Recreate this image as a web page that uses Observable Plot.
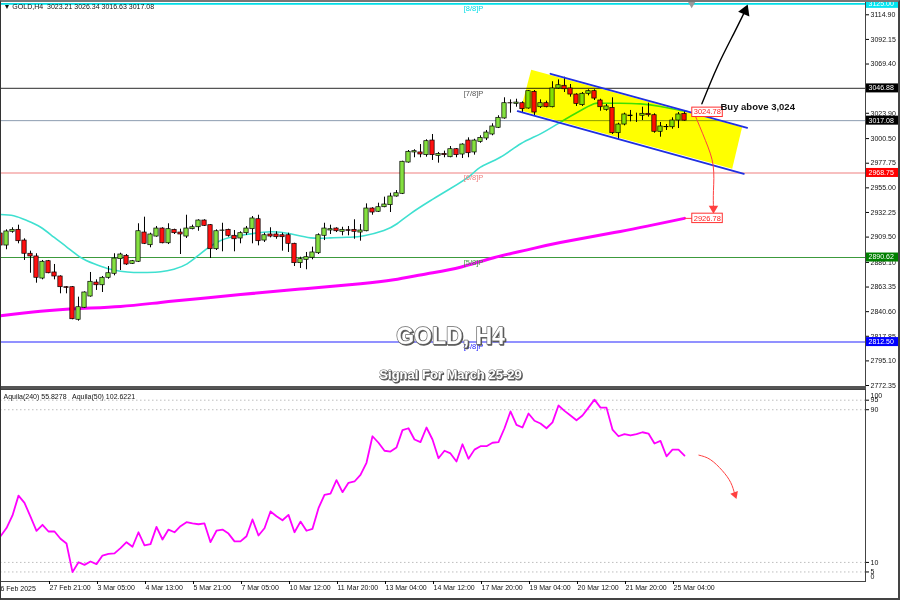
<!DOCTYPE html>
<html><head><meta charset="utf-8">
<script src="https://cdn.jsdelivr.net/npm/d3@7"></script>
<script src="https://cdn.jsdelivr.net/npm/@observablehq/plot@0.6"></script>
<style>
html,body{margin:0;padding:0;background:#fff;}
#wrap{position:relative;width:900px;height:600px;overflow:hidden;background:#fff;}
#main{position:absolute;left:0;top:0;}
#ind{position:absolute;left:0;top:388px;}
#sep{position:absolute;left:0;top:386px;width:866px;height:3px;background:#555;}
#border{position:absolute;left:0;top:0;width:900px;height:600px;box-sizing:border-box;border-top:2px solid #777;border-left:1px solid #333;border-right:2px solid #444;border-bottom:2px solid #444;pointer-events:none;}
.wm text{filter:drop-shadow(1.5px 1.5px 0.6px #555);}
</style></head>
<body><div id="wrap"><div id="main"></div><div id="ind"></div><div id="sep"></div><div id="border"></div></div>
<script>
const FONT = "Liberation Sans, Arial, sans-serif";

// ---- candles (GOLD H4), one per bar index ----
const open = [2912.8,2901.7,2914.4,2916.2,2906.3,2894.1,2891.6,2871.2,2887.2,2876.8,
2873.1,2863.2,2863.2,2833.1,2844.2,2854.6,2867.5,2865.0,2871.9,2875.6,
2889.1,2892.2,2884.8,2886.7,2913.7,2902.0,2910.0,2917.4,2903.8,2916.2,
2913.7,2910.0,2916.8,2918.6,2924.8,2920.5,2898.3,2915.3,2916.2,2910.7,
2908.2,2913.1,2916.8,2926.0,2906.3,2911.9,2911.9,2911.2,2911.2,2903.3,
2885.4,2888.5,2890.4,2894.6,2910.7,2915.6,2917.4,2914.4,2915.9,2916.2,
2913.7,2914.9,2935.9,2932.9,2937.1,2939.0,2947.0,2949.5,2978.4,2987.7,
2987.7,2985.2,2998.7,2984.6,2986.4,2983.3,2990.7,2985.8,2998.7,2987.7,
2997.5,3000.6,3004.3,3010.5,3019.1,3033.2,3032.6,3033.2,3028.3,3043.7,
3029.5,3033.2,3029.5,3046.8,3049.3,3046.8,3041.2,3031.4,3041.9,3044.3,
3035.7,3027.1,3028.9,3005.5,3013.5,3021.2,3021.6,3021.6,3023.4,3022.1,
3006.8,3011.0,3011.0,3017.2,3023.21];
const high = [2915.6,2916.2,2918.1,2920.5,2907.9,2896.5,2894.1,2887.9,2887.9,2884.2,
2873.7,2863.8,2863.8,2854.0,2858.9,2876.8,2870.0,2873.1,2882.3,2894.1,
2894.6,2893.4,2887.9,2921.8,2927.9,2913.1,2919.3,2918.1,2921.8,2916.8,
2916.8,2929.7,2920.5,2925.5,2925.5,2921.1,2916.2,2922.3,2916.8,2915.6,
2914.4,2919.3,2928.5,2929.7,2913.1,2918.1,2914.4,2913.1,2913.1,2903.8,
2890.9,2895.3,2900.2,2912.5,2922.3,2920.5,2918.1,2918.6,2919.3,2925.5,
2921.1,2940.2,2936.6,2940.8,2946.4,2950.0,2952.5,2979.6,2989.5,2990.2,
2995.0,2999.4,3004.3,2987.7,2988.9,2993.2,2991.3,2995.7,3001.2,2999.9,
3003.1,3008.0,3014.2,3021.6,3038.2,3036.3,3036.9,3034.5,3044.9,3044.9,
3036.3,3035.1,3053.0,3054.8,3057.2,3050.5,3041.9,3043.1,3045.6,3045.6,
3036.9,3032.0,3038.2,3014.7,3024.0,3026.5,3024.0,3029.5,3033.2,3023.4,
3015.4,3013.5,3019.7,3024.6,3026.34];
const low = [2898.9,2897.8,2913.1,2903.3,2887.9,2876.1,2866.9,2870.0,2875.6,2870.0,
2857.1,2857.1,2833.1,2831.8,2843.5,2854.0,2860.2,2858.3,2870.6,2873.7,
2878.6,2883.3,2884.2,2886.0,2902.6,2899.6,2909.4,2903.3,2902.6,2911.9,
2893.4,2908.2,2916.2,2914.9,2919.3,2889.7,2897.1,2895.9,2909.4,2895.9,
2903.3,2911.0,2903.3,2901.4,2904.5,2908.8,2907.5,2896.5,2895.3,2882.3,
2880.5,2879.3,2888.5,2893.4,2906.3,2911.9,2913.7,2910.7,2910.7,2907.5,
2905.7,2914.4,2929.7,2932.2,2936.6,2932.2,2946.4,2948.8,2977.8,2982.8,
2982.8,2983.3,2980.3,2977.8,2982.8,2982.8,2982.8,2982.1,2982.8,2985.2,
2996.2,2998.7,3003.1,3009.8,3018.4,3024.0,3029.5,3024.0,3027.7,3021.6,
3028.3,3028.9,3028.9,3046.1,3043.1,3038.8,3030.2,3030.2,3040.0,3035.7,
3025.8,3025.8,3004.3,2999.4,3012.3,3016.0,3015.4,3017.2,3020.3,3005.5,
3001.8,3008.0,3009.2,3009.8,3016.63];
const close = [2901.7,2914.7,2916.2,2905.7,2894.1,2891.6,2871.9,2886.7,2876.1,2873.1,
2863.2,2862.6,2833.6,2844.7,2858.3,2868.2,2865.0,2871.9,2876.1,2889.7,
2893.4,2884.2,2887.2,2914.9,2903.3,2911.9,2917.4,2903.8,2916.8,2913.1,
2911.9,2917.4,2918.6,2924.8,2919.9,2898.3,2914.9,2915.6,2910.7,2907.5,
2913.1,2917.4,2926.7,2905.7,2911.2,2910.0,2909.4,2909.4,2903.3,2885.4,
2889.1,2890.9,2895.3,2911.2,2917.4,2916.8,2914.9,2916.2,2915.3,2914.4,
2915.6,2935.9,2932.2,2937.1,2939.6,2947.0,2950.0,2979.1,2988.3,2988.9,
2985.8,2998.1,2985.2,2986.4,2985.2,2990.7,2985.2,2995.0,2987.0,2998.7,
3001.2,3006.1,3011.7,3019.7,3033.2,3033.0,3033.8,3027.7,3044.3,3024.6,
3033.2,3029.5,3046.8,3049.8,3046.1,3041.2,3032.6,3041.9,3044.3,3037.5,
3029.5,3030.2,3005.5,3013.5,3022.8,3021.8,3021.6,3023.4,3022.1,3006.8,
3011.7,3011.3,3017.2,3022.8,3017.08];

// ---- moving averages (bar index, price) ----
const ma21Idx = [0,2.2,4.4,6.7,8.9,11.1,13.3,15.6,17.8,20,22.2,24.4,26.7,28.9,31.1,33.3,36.7,40,41.7,45,48.3,51.7,55,58.3,60.6,63.9,66.1,68.3,71.7,75,78.3,80,83.3,86.7,90,93.3,96.7,98.9,100,103.3,106.7,110,113.3,114.4];
const ma21Val = [2930.4,2929.2,2924.8,2918.6,2909.4,2900.1,2890.9,2884.8,2880.5,2878.0,2876.8,2876.8,2877.4,2879.8,2884.8,2894.1,2906.3,2911.2,2912.5,2914.4,2912.5,2908.8,2908.8,2909.4,2910.7,2915.6,2921.8,2931.0,2943.3,2954.4,2966.4,2974.1,2983.3,2995.7,3004.9,3015.6,3026.5,3032.6,3033.2,3033.2,3032.6,3030.2,3026.5,3025.8];
const ma200Idx = [0,6.67,13.33,20,26.67,33.33,40,50,60,65.55,71.1,76.67,82.2,87.8,93.3,103.3,114];
const ma200Val = [2836.8,2841.0,2843.5,2845.4,2849.1,2852.8,2856.4,2861.5,2866.3,2870.0,2875.6,2881.7,2890.4,2897.7,2904.5,2914.7,2926.78];

// ---- indicator (Aquila) per bar ----
const aquila = [23.7,28,34.6,45,41.2,34,26.5,29.7,26.2,26.2,
22.4,19.9,4.9,10.1,8.7,10.5,9.1,13.6,14.5,14.7,
17.5,20.6,18.2,25.8,18.9,19.6,28.6,22,27.2,25.8,
29,31.1,30.4,30,30.4,20.6,26.6,27.2,25.1,21,
21,23.7,32.5,24.1,27.9,36.7,34.2,32.1,34.9,25.8,
31.4,26.6,27.6,38.4,45.4,46.1,53.1,46.8,51.7,52.4,
55.9,62.2,76.1,72.7,68.5,68.1,70.2,79.3,80.3,74.4,
73,80.7,74.4,64.6,68.5,67.1,62.9,71.9,64.3,69.1,
70.9,70.9,72.7,73,80.3,89.1,82.1,80.7,88,84.2,
82.8,80.3,83.4,92.2,89.4,87,84.5,87,91.1,95.3,
91.1,91.1,79.6,76.1,77.2,76.5,77.2,78.2,77.5,72.3,
73.7,65.6,69.1,69.1,66];
const aquilaLevels = [95, 90, 10, 5];

// ---- levels / ticks ----
const yTicks = [3114.90,3092.15,3069.40,3023.90,3000.50,2977.75,2955.00,2932.25,2909.50,2886.10,2863.35,2840.60,2817.85,2795.10,2772.35];
const levelPrices = [3125.00, 3046.88, 2968.75, 2890.62, 2812.50];
const levelNames = ["[8/8]P","[7/8]P","[6/8]P","[5/8]P","[4/8]P"];
const levelColors = ["#00dde6","#555555","#f08080","#3c9a3c","#2424ff"];
const levelBoxColors = ["#00e5f0","#000000","#ff0000","#008000","#0000ff"];
const lastPrice = 3017.08;
const xTickIdx = [8,16,24,32,40,48,56,64,72,80,88,96,104,112];
const xTickLabels = ["27 Feb 21:00","3 Mar 05:00","4 Mar 13:00","5 Mar 21:00","7 Mar 05:00","10 Mar 12:00","11 Mar 20:00","13 Mar 04:00","14 Mar 12:00","17 Mar 20:00","19 Mar 04:00","20 Mar 12:00","21 Mar 20:00","25 Mar 04:00"];
const firstLabel = "26 Feb 2025";

// ---- drawings (bar index, price) ----
const channelFill = [[88.45,3064.1],[123.6,3011.0],[121.95,2972.6],[86.67,3026.5],[88.45,3064.1]];
const channelUpper = [[91.67,3060.4],[124.45,3010.5]];
const channelLower = [[86.2,3025.8],[123.9,2968.0]];
const upArrow = [[116.9,3032.6],[119.45,3066.5],[122.2,3097.3],[124.1,3118.5]];
const downArrow = [[115.55,3024.9],[117.5,2998.7],[118.78,2975.6],[118.83,2952.5],[118.83,2936]];
const indArrow = [[116.4,66.2],[118.3,63.9],[120.3,58.1],[121.7,51.9],[122.4,45.5]];
const targetBoxes = [{i:115.3, v:3024.78, label:"3024.78"},{i:115.3, v:2926.78, label:"2926.78"}];

const candles = open.map((o, i) => ({i, o, h: high[i], l: low[i], c: close[i]}));
const up = candles.filter(d => d.c >= d.o), dn = candles.filter(d => d.c < d.o);
const levels = levelPrices.map((v, k) => ({v, name: levelNames[k], color: levelColors[k], box: levelBoxColors[k]}));
const axisBoxes = levels.map(d => ({v: d.v, bg: d.box})).concat([{v: lastPrice, bg: "#000"}]);
const xLabelMap = new Map(xTickIdx.map((d, k) => [d, xTickLabels[k]]));

function rightBoxes(items) {
  return (index, scales, values, dims) => {
    const g = d3.create("svg:g").attr("font-family", FONT).attr("font-size", 7).attr("text-anchor", "start");
    const x0 = dims.width - dims.marginRight + 1;
    for (const d of items) {
      const y = scales.y(d.v);
      g.append("rect").attr("x", x0).attr("y", y - 4.5).attr("width", 32).attr("height", 9).attr("fill", d.bg);
      g.append("text").attr("x", x0 + 2.5).attr("y", y).attr("dy", "0.35em").attr("text-anchor", "start").attr("fill", "#fff").text(d.v.toFixed(2));
    }
    return g.node();
  };
}
function dataBoxes(items) {
  return (index, scales, values, dims) => {
    const g = d3.create("svg:g").attr("font-family", FONT).attr("font-size", 7.5).attr("text-anchor", "start");
    for (const d of items) {
      const x = scales.x(d.i), y = scales.y(d.v);
      g.append("rect").attr("x", x).attr("y", y - 4.7).attr("width", 30.5).attr("height", 9.4)
        .attr("fill", "#fff").attr("stroke", "#ff3030").attr("stroke-width", 1);
      g.append("text").attr("x", x + 2).attr("y", y).attr("dy", "0.35em").attr("text-anchor", "start").attr("fill", "#ff2020").text(d.label);
    }
    return g.node();
  };
}

const baseStyle = {fontFamily: FONT, fontSize: "7px", background: "#fff", overflow: "visible"};

const main = Plot.plot({
  width: 900, height: 388,
  marginLeft: 0, marginRight: 35, marginTop: 0, marginBottom: 0,
  x: {domain: [0, 144.17], axis: null},
  y: {domain: [2769.6, 3128.1], axis: null},
  style: baseStyle,
  marks: [
    Plot.ruleY(levels, {y: "v", stroke: "color", strokeWidth: d => d.v === 3125 ? 1.6 : 1.1}),
    Plot.ruleY([lastPrice], {stroke: "#8c9cb0", strokeWidth: 1}),
    Plot.line(ma200Idx, {x: d => d, y: (d, k) => ma200Val[k], stroke: "#ff00ff", strokeWidth: 3, curve: "natural"}),
    Plot.line(ma21Idx, {x: d => d, y: (d, k) => ma21Val[k], stroke: "#3fe0d0", strokeWidth: 1.6, curve: "natural"}),
    Plot.ruleX(candles, {x: "i", y1: "l", y2: "h", stroke: "#000", strokeWidth: 1}),
    Plot.rect(up, {x1: d => d.i - 0.36, x2: d => d.i + 0.36, y1: "o", y2: "c", fill: "#84e040", stroke: "#000", strokeWidth: 0.7}),
    Plot.rect(dn, {x1: d => d.i - 0.36, x2: d => d.i + 0.36, y1: "o", y2: "c", fill: "#ff1010", stroke: "#000", strokeWidth: 0.7}),
    Plot.line(channelFill, {x: d => d[0], y: d => d[1], fill: "#ffff00", stroke: "none", mixBlendMode: "multiply"}),
    Plot.line(channelUpper, {x: d => d[0], y: d => d[1], stroke: "#2030e0", strokeWidth: 1.8}),
    Plot.line(channelLower, {x: d => d[0], y: d => d[1], stroke: "#2030e0", strokeWidth: 1.8}),
    Plot.text(levels, {x: () => 77.2, y: "v", text: "name", fill: "color", textAnchor: "start", dy: 5, fontSize: 7.5}),
    Plot.line(upArrow, {x: d => d[0], y: d => d[1], stroke: "#000", strokeWidth: 1.4, curve: "natural"}),
    Plot.dot([upArrow[upArrow.length - 1]], {x: d => d[0], y: d => d[1], symbol: "triangle", r: 4.5, fill: "#000", stroke: "none", rotate: 22}),
    Plot.line(downArrow, {x: d => d[0], y: d => d[1], stroke: "#ff4040", strokeWidth: 1, curve: "natural"}),
    Plot.dot([downArrow[downArrow.length - 1]], {x: d => d[0], y: d => d[1], symbol: "triangle", r: 3.5, fill: "#ff4040", stroke: "none", rotate: 180}),
    Plot.line([[114, 2926.78], [115.3, 2926.78]], {x: d => d[0], y: d => d[1], stroke: "#ff4040", strokeWidth: 1}),
    Plot.dot([[115.2, 3125.3]], {x: d => d[0], y: d => d[1], symbol: "triangle", r: 3, fill: "#999", stroke: "none", rotate: 180}),
    dataBoxes(targetBoxes),
    Plot.text(["Buy above 3,024"], {x: () => 120.0, y: () => 3030.2, textAnchor: "start", fontSize: 9.5, fontWeight: "bold", fill: "#111"}),
    Plot.text(["▼ GOLD,H4  3023.21 3026.34 3016.63 3017.08"], {frameAnchor: "top-left", dx: 3, dy: 6, lineAnchor: "middle", fontSize: 7, fill: "#111"}),
    Plot.text(["GOLD, H4"], {frameAnchor: "bottom", dx: 17.5, dy: -52, lineAnchor: "middle", fontSize: 23, fontWeight: "bold", fill: "#fff", stroke: "#6a6a6a", strokeWidth: 1.4, className: "wm"}),
    Plot.text(["Signal For March 25-29"], {frameAnchor: "bottom", dx: 17.5, dy: -14, lineAnchor: "middle", fontSize: 13, fontWeight: "bold", fill: "#fff", stroke: "#6a6a6a", strokeWidth: 1, className: "wm"}),
    Plot.frame({stroke: "#444"}),
    Plot.axisY(yTicks, {anchor: "right", tickSize: 3, tickPadding: 2, tickFormat: d => d.toFixed(2), fontSize: 7, fill: "#111"}),
    rightBoxes(axisBoxes)
  ]
});
document.getElementById("main").appendChild(main);

const ind = Plot.plot({
  width: 900, height: 212,
  marginLeft: 0, marginRight: 35, marginTop: 1, marginBottom: 19,
  x: {domain: [0, 144.17], axis: null},
  y: {domain: [0, 100.6], axis: null},
  style: baseStyle,
  marks: [
    Plot.ruleY(aquilaLevels, {stroke: "#bdbdbd", strokeDasharray: "1.5,2.5"}),
    Plot.line(aquila, {x: (d, k) => k, y: d => d, stroke: "#ff00ff", strokeWidth: 1.8}),
    Plot.line(indArrow, {x: d => d[0], y: d => d[1], stroke: "#ff4040", strokeWidth: 1, curve: "natural"}),
    Plot.dot([indArrow[indArrow.length - 1]], {x: d => d[0], y: d => d[1], symbol: "triangle", r: 3, fill: "#ff4040", stroke: "none", rotate: 160}),
    Plot.text(["Aquila(240) 55.8278   Aquila(50) 102.6221"], {frameAnchor: "top-left", dx: 3, dy: 7, lineAnchor: "middle", fontSize: 7, fill: "#111"}),
    Plot.frame({stroke: "#444"}),
    Plot.axisY(aquilaLevels, {anchor: "right", tickSize: 3, tickPadding: 2, tickFormat: d => String(d), fontSize: 7, fill: "#111"}),
    Plot.text([100], {frameAnchor: "right", y: d => d, dx: 5, dy: 5, textAnchor: "start", fontSize: 7, fill: "#111"}),
    Plot.text([0], {frameAnchor: "right", y: d => d, dx: 5, dy: -5, textAnchor: "start", fontSize: 7, fill: "#111"}),
    Plot.axisX(xTickIdx, {anchor: "bottom", tickSize: 3, tickPadding: 1, tickFormat: d => xLabelMap.get(d), textAnchor: "start", dx: 1, fontSize: 7, fill: "#111"}),
    Plot.text([0], {x: d => d, frameAnchor: "bottom", dy: 7.5, dx: -4, textAnchor: "start", lineAnchor: "middle", text: () => firstLabel, fontSize: 7, fill: "#111"})
  ]
});
document.getElementById("ind").appendChild(ind);
</script>
</body></html>
